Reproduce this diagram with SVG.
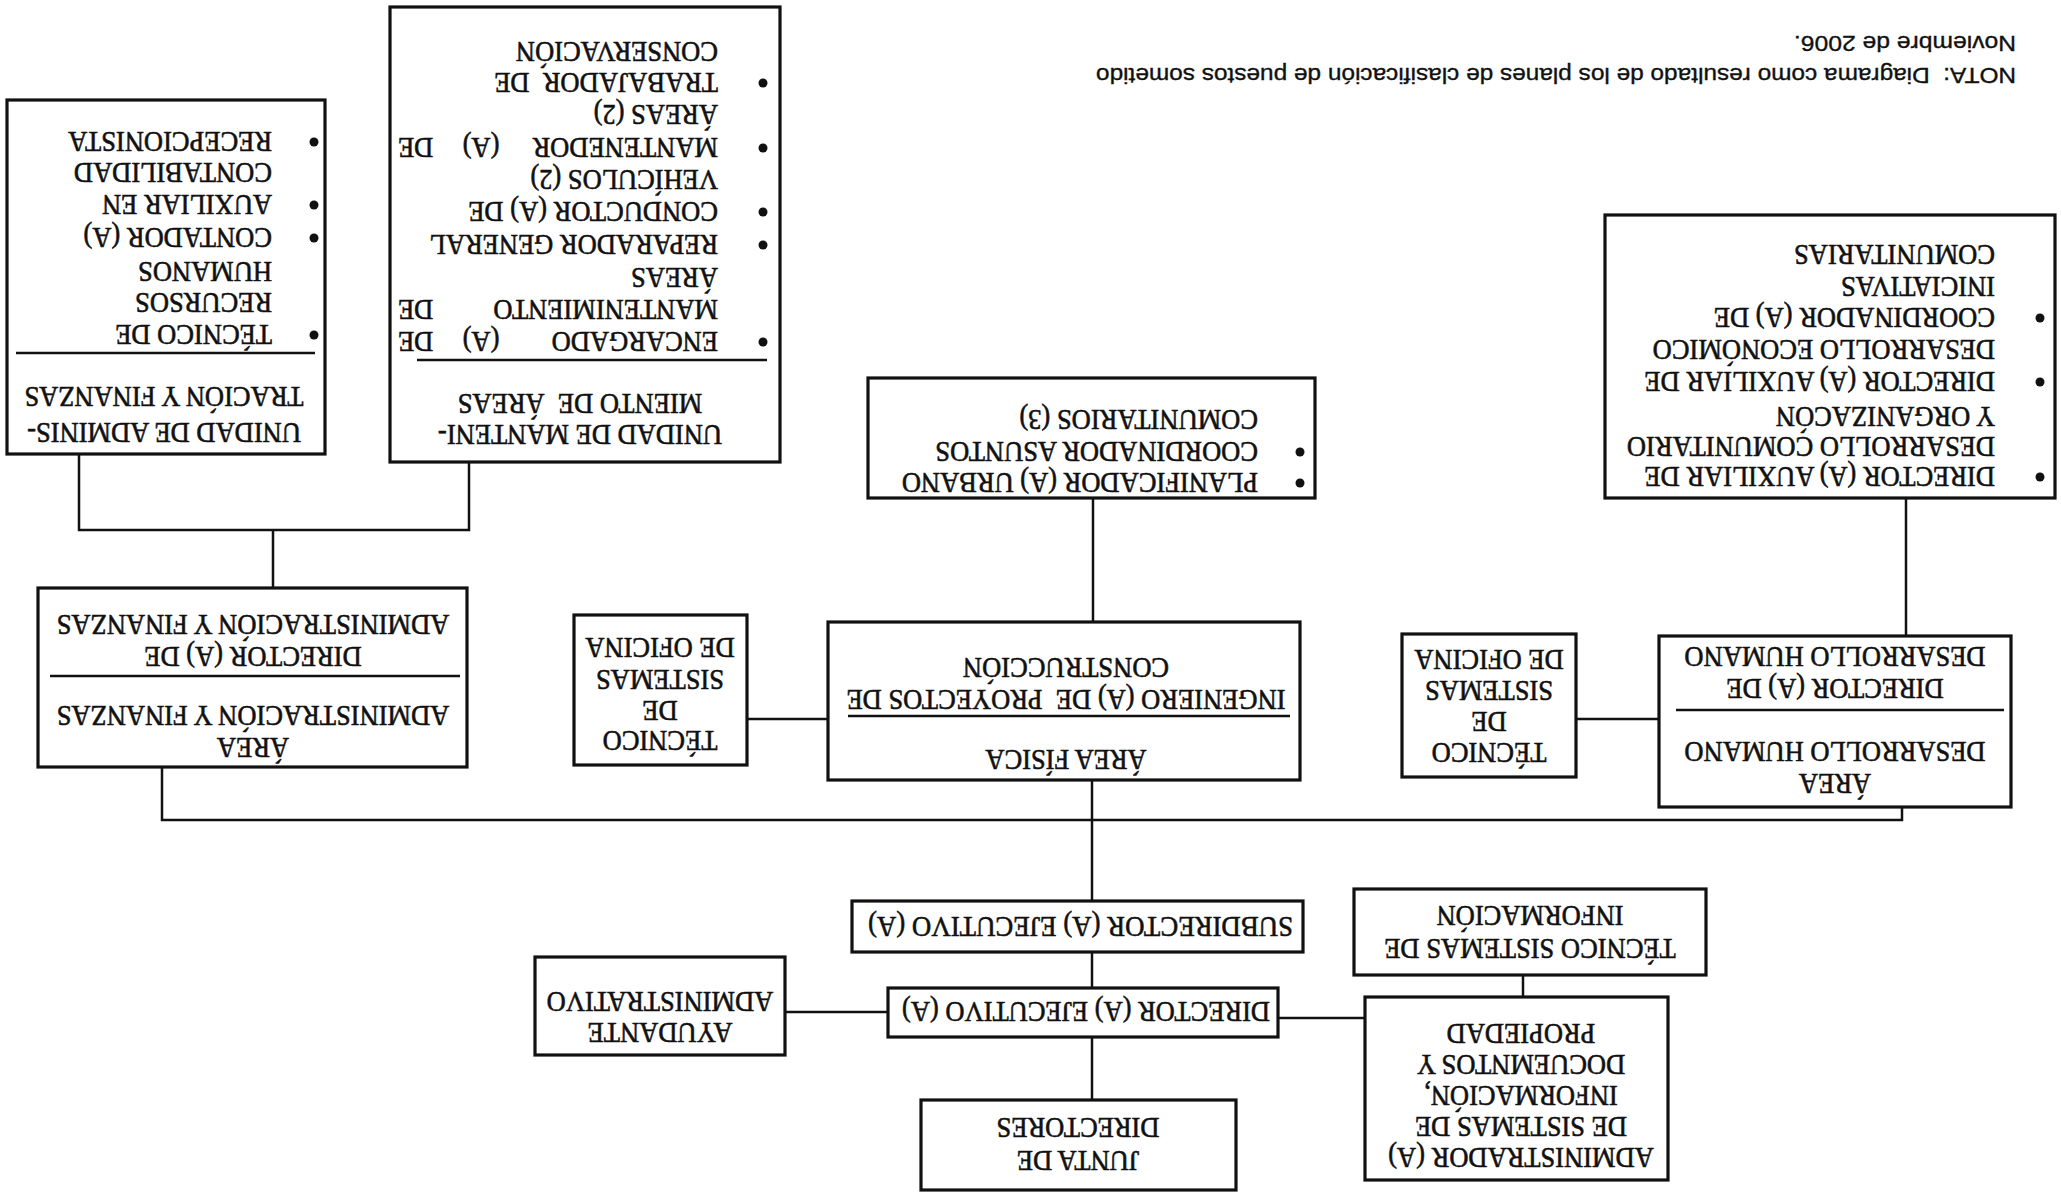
<svg xmlns="http://www.w3.org/2000/svg" width="2061" height="1194" viewBox="0 0 2061 1194">
<style>
.box{fill:#fff;stroke:#111;stroke-width:3.2}
.t{font-family:"Liberation Serif","Times New Roman",serif;font-size:26.5px;fill:#111;stroke:#111;stroke-width:0.55px;transform-box:fill-box;transform-origin:center;transform:scaleY(1.08)}
.c{text-anchor:middle}
.e{text-anchor:end}
.sep{stroke:#111;stroke-width:2.5}
.ln{stroke:#111;stroke-width:2.5;fill:none}
.b{fill:#111}
.note{font-family:"Liberation Sans",Arial,sans-serif;font-size:22px;fill:#111;stroke:#111;stroke-width:0.35px}
</style>
<rect width="2061" height="1194" fill="#fff"/>
<g transform="rotate(180 1030.5 597)">
<g id="connectors">
<path class="ln" d="M1982 741V664H1592V733M1788 664V606"/>
<path class="ln" d="M1899 427V374H159V387"/>
<path class="ln" d="M969 293V414"/>
<path class="ln" d="M1233 475H1314"/>
<path class="ln" d="M402 475H485"/>
<path class="ln" d="M968 572V696"/>
<path class="ln" d="M155 558V696"/>
<path class="ln" d="M969 206V242"/>
<path class="ln" d="M969 94V157"/>
<path class="ln" d="M1173 182H1276"/>
<path class="ln" d="M696 176H783"/>
<path class="ln" d="M538 197V219"/>
</g>
<g id="junta">
<rect class="box" x="825" y="4" width="315" height="90"/>
<text class="t c" x="983" y="42">JUNTA DE</text>
<text class="t c" x="983" y="75">DIRECTORES</text>
</g>
<g id="administrador">
<rect class="box" x="393" y="14" width="303" height="183"/>
<text class="t c" x="540" y="45">ADMINISTRADOR (A)</text>
<text class="t c" x="540" y="76">DE SISTEMAS DE</text>
<text class="t c" x="540" y="107">INFORMACIÓN,</text>
<text class="t c" x="540" y="138">DOCUEMNTOS Y</text>
<text class="t c" x="540" y="169">PROPIEDAD</text>
</g>
<g id="director-ejecutivo">
<rect class="box" x="783" y="157" width="390" height="49"/>
<text class="t" x="791" y="191" style="font-size:28px" textLength="368" lengthAdjust="spacingAndGlyphs">DIRECTOR (A) EJECUTIVO (A)</text>
</g>
<g id="ayudante">
<rect class="box" x="1276" y="139" width="250" height="98"/>
<text class="t c" x="1401" y="170">AYUDANTE</text>
<text class="t c" x="1401" y="201">ADMINISTRATIVO</text>
</g>
<g id="tecnico-informacion">
<rect class="box" x="355" y="219" width="352" height="86"/>
<text class="t c" x="531" y="254">TÉCNICO SISTEMAS DE</text>
<text class="t c" x="531" y="287">INFORMACIÓN</text>
</g>
<g id="subdirector">
<rect class="box" x="758" y="242" width="451" height="51"/>
<text class="t" x="768" y="276" style="font-size:28px" textLength="425" lengthAdjust="spacingAndGlyphs">SUBDIRECTOR (A) EJECUTIVO (A)</text>
</g>
<g id="area-desarrollo-humano">
<rect class="box" x="50" y="387" width="352" height="171"/>
<text class="t c" x="226" y="419">ÁREA</text>
<text class="t c" x="226" y="451">DESARROLLO HUMANO</text>
<line class="sep" x1="57" y1="484" x2="385" y2="484"/>
<text class="t c" x="226" y="514">DIRECTOR (A) DE</text>
<text class="t c" x="226" y="546">DESARROLLO HUMANO</text>
</g>
<g id="tecnico-oficina-dh">
<rect class="box" x="485" y="417" width="174" height="143"/>
<text class="t c" x="572" y="450">TÉCNICO</text>
<text class="t c" x="572" y="481">DE</text>
<text class="t c" x="572" y="512">SISTEMAS</text>
<text class="t c" x="572" y="543">DE OFICINA</text>
</g>
<g id="area-fisica">
<rect class="box" x="761" y="414" width="472" height="158"/>
<text class="t c" x="995" y="443">ÁREA FÍSICA</text>
<line class="sep" x1="771" y1="478" x2="1213" y2="478"/>
<text class="t c" x="995" y="503" xml:space="preserve">INGENIERO (A) DE  PROYECTOS DE</text>
<text class="t c" x="995" y="535">CONSTRUCCIÓN</text>
</g>
<g id="tecnico-oficina-af">
<rect class="box" x="1314" y="429" width="173" height="150"/>
<text class="t c" x="1401" y="462">TÉCNICO</text>
<text class="t c" x="1401" y="492">DE</text>
<text class="t c" x="1401" y="523">SISTEMAS</text>
<text class="t c" x="1401" y="555">DE OFICINA</text>
</g>
<g id="area-administracion">
<rect class="box" x="1594" y="427" width="429" height="179"/>
<text class="t c" x="1808" y="455">ÁREA</text>
<text class="t c" x="1808" y="487">ADMINISTRACIÓN Y FINANZAS</text>
<line class="sep" x1="1601" y1="518" x2="2011" y2="518"/>
<text class="t c" x="1808" y="546">DIRECTOR (A) DE</text>
<text class="t c" x="1808" y="578">ADMINISTRACIÓN Y FINANZAS</text>
</g>
<g id="planificador">
<rect class="box" x="746" y="696" width="447" height="120"/>
<circle class="b" cx="761" cy="711" r="4.5"/>
<circle class="b" cx="761" cy="742" r="4.5"/>
<text class="t" x="803" y="720">PLANIFICADOR (A) URBANO</text>
<text class="t" x="803" y="751">COORDINADOR ASUNTOS</text>
<text class="t" x="803" y="783">COMUNITARIOS (3)</text>
</g>
<g id="director-auxiliar">
<rect class="box" x="6" y="696" width="450" height="283"/>
<circle class="b" cx="21" cy="717" r="4.5"/>
<circle class="b" cx="21" cy="812" r="4.5"/>
<circle class="b" cx="21" cy="876" r="4.5"/>
<text class="t" x="66" y="726">DIRECTOR (A) AUXILIAR DE</text>
<text class="t" x="66" y="756">DESARROLLO COMUNITARIO</text>
<text class="t" x="66" y="786">Y ORGANIZACÓN</text>
<text class="t" x="66" y="821">DIRECTOR (A) AUXILIAR DE</text>
<text class="t" x="66" y="853">DESARROLLO ECONÓMICO</text>
<text class="t" x="66" y="885">COORDINADOR (A) DE</text>
<text class="t" x="66" y="916">INICIATIVAS</text>
<text class="t" x="66" y="948">COMUNITARIAS</text>
</g>
<g id="unidad-mantenimiento">
<rect class="box" x="1281" y="732" width="390" height="455"/>
<text class="t c" x="1481" y="768">UNIDAD DE MANTENI-</text>
<text class="t c" x="1481" y="799" xml:space="preserve">MIENTO DE  ÁREAS</text>
<line class="sep" x1="1294" y1="834" x2="1644" y2="834"/>
<circle class="b" cx="1298" cy="852" r="4.5"/>
<circle class="b" cx="1298" cy="949" r="4.5"/>
<circle class="b" cx="1298" cy="982" r="4.5"/>
<circle class="b" cx="1298" cy="1046" r="4.5"/>
<circle class="b" cx="1298" cy="1111" r="4.5"/>
<text class="t" x="1343" y="861">ENCARGADO</text>
<text class="t c" x="1580" y="861">(A)</text>
<text class="t e" x="1663" y="861">DE</text>
<text class="t" x="1343" y="893">MANTENIMIENTO</text>
<text class="t e" x="1663" y="893">DE</text>
<text class="t" x="1343" y="925">ÁREAS</text>
<text class="t" x="1343" y="958">REPARADOR GENERAL</text>
<text class="t" x="1343" y="991">CONDUCTOR (A) DE</text>
<text class="t" x="1343" y="1023">VEHÍCULOS (2)</text>
<text class="t" x="1343" y="1055">MANTENEDOR</text>
<text class="t c" x="1580" y="1055">(A)</text>
<text class="t e" x="1663" y="1055">DE</text>
<text class="t" x="1343" y="1088">ÁREAS (2)</text>
<text class="t" x="1343" y="1120" xml:space="preserve">TRABAJADOR  DE</text>
<text class="t" x="1343" y="1151">CONSERVACIÓN</text>
</g>
<g id="unidad-administracion">
<rect class="box" x="1736" y="740" width="318" height="354"/>
<text class="t c" x="1897" y="770">UNIDAD DE ADMINIS-</text>
<text class="t c" x="1897" y="806">TRACIÓN Y FINANZAS</text>
<line class="sep" x1="1746" y1="841" x2="2045" y2="841"/>
<circle class="b" cx="1747" cy="859" r="4.5"/>
<circle class="b" cx="1747" cy="956" r="4.5"/>
<circle class="b" cx="1747" cy="989" r="4.5"/>
<circle class="b" cx="1747" cy="1052" r="4.5"/>
<text class="t" x="1789" y="868">TÉCNICO DE</text>
<text class="t" x="1789" y="900">RECURSOS</text>
<text class="t" x="1789" y="931">HUMANOS</text>
<text class="t" x="1789" y="965">CONTADOR (A)</text>
<text class="t" x="1789" y="998">AUXILIAR EN</text>
<text class="t" x="1789" y="1030">CONTABILIDAD</text>
<text class="t" x="1789" y="1061">RECEPCIONISTA</text>
</g>
<g id="nota">
<text class="note" x="45" y="1126" textLength="920" lengthAdjust="spacingAndGlyphs" xml:space="preserve">NOTA:  Diagrama como resultado de los planes de clasificación de puestos sometido</text>
<text class="note" x="45" y="1158" textLength="222" lengthAdjust="spacingAndGlyphs">Noviembre de 2006.</text>
</g>
</g>
</svg>
